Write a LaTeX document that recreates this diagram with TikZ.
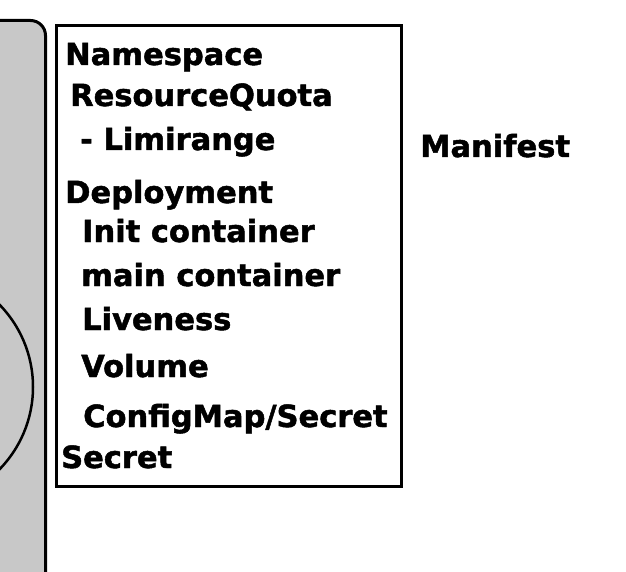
\documentclass[tikz,border=0pt]{standalone}
\usepackage{fontspec}
\setmainfont{DejaVu Sans}
\newfontfamily\heavyfont{DejaVu Sans Bold}[FakeBold=1.6]
\usepackage{xcolor}
\usepackage{tikz}
\usetikzlibrary{positioning}
\definecolor{panelgray}{RGB}{200,200,200}

\begin{document}
\begin{tikzpicture}[x=1pt,y=-1pt,
    item/.style={anchor=base west,inner sep=0pt,font=\fontsize{30.5}{36}\heavyfont}]
  \useasboundingbox (0,0) rectangle (626,572);
  % left panel
  \draw[line width=3pt,fill=panelgray,rounded corners=15pt] (-30,20.5) rectangle (45.5,620);
  \draw[line width=2.5pt] (-85,387) circle (118);
  % manifest box
  \draw[line width=3pt] (56.5,26) rectangle (401,486);
  \node[item] (ns) at (65,65) {Namespace};
  \node[item] (rq) at (70,106) {ResourceQuota};
  \node[item] (lr) at (80,150) {- Limirange};
  \node[item] (dep) at (65,203) {Deployment};
  \node[item] (init) at (82,242) {Init container};
  \node[item] (main) at (81,286) {main container};
  \node[item] (live) at (82,330) {Liveness};
  \node[item] (vol) at (81,377) {Volume};
  \node[item] (cfg) at (83,427) {ConfigMap/Secret};
  \node[item] (sec) at (61,468) {Secret};
  % label
  \node[item] (mf) at (420,157) {Manifest};
\end{tikzpicture}
\end{document}
